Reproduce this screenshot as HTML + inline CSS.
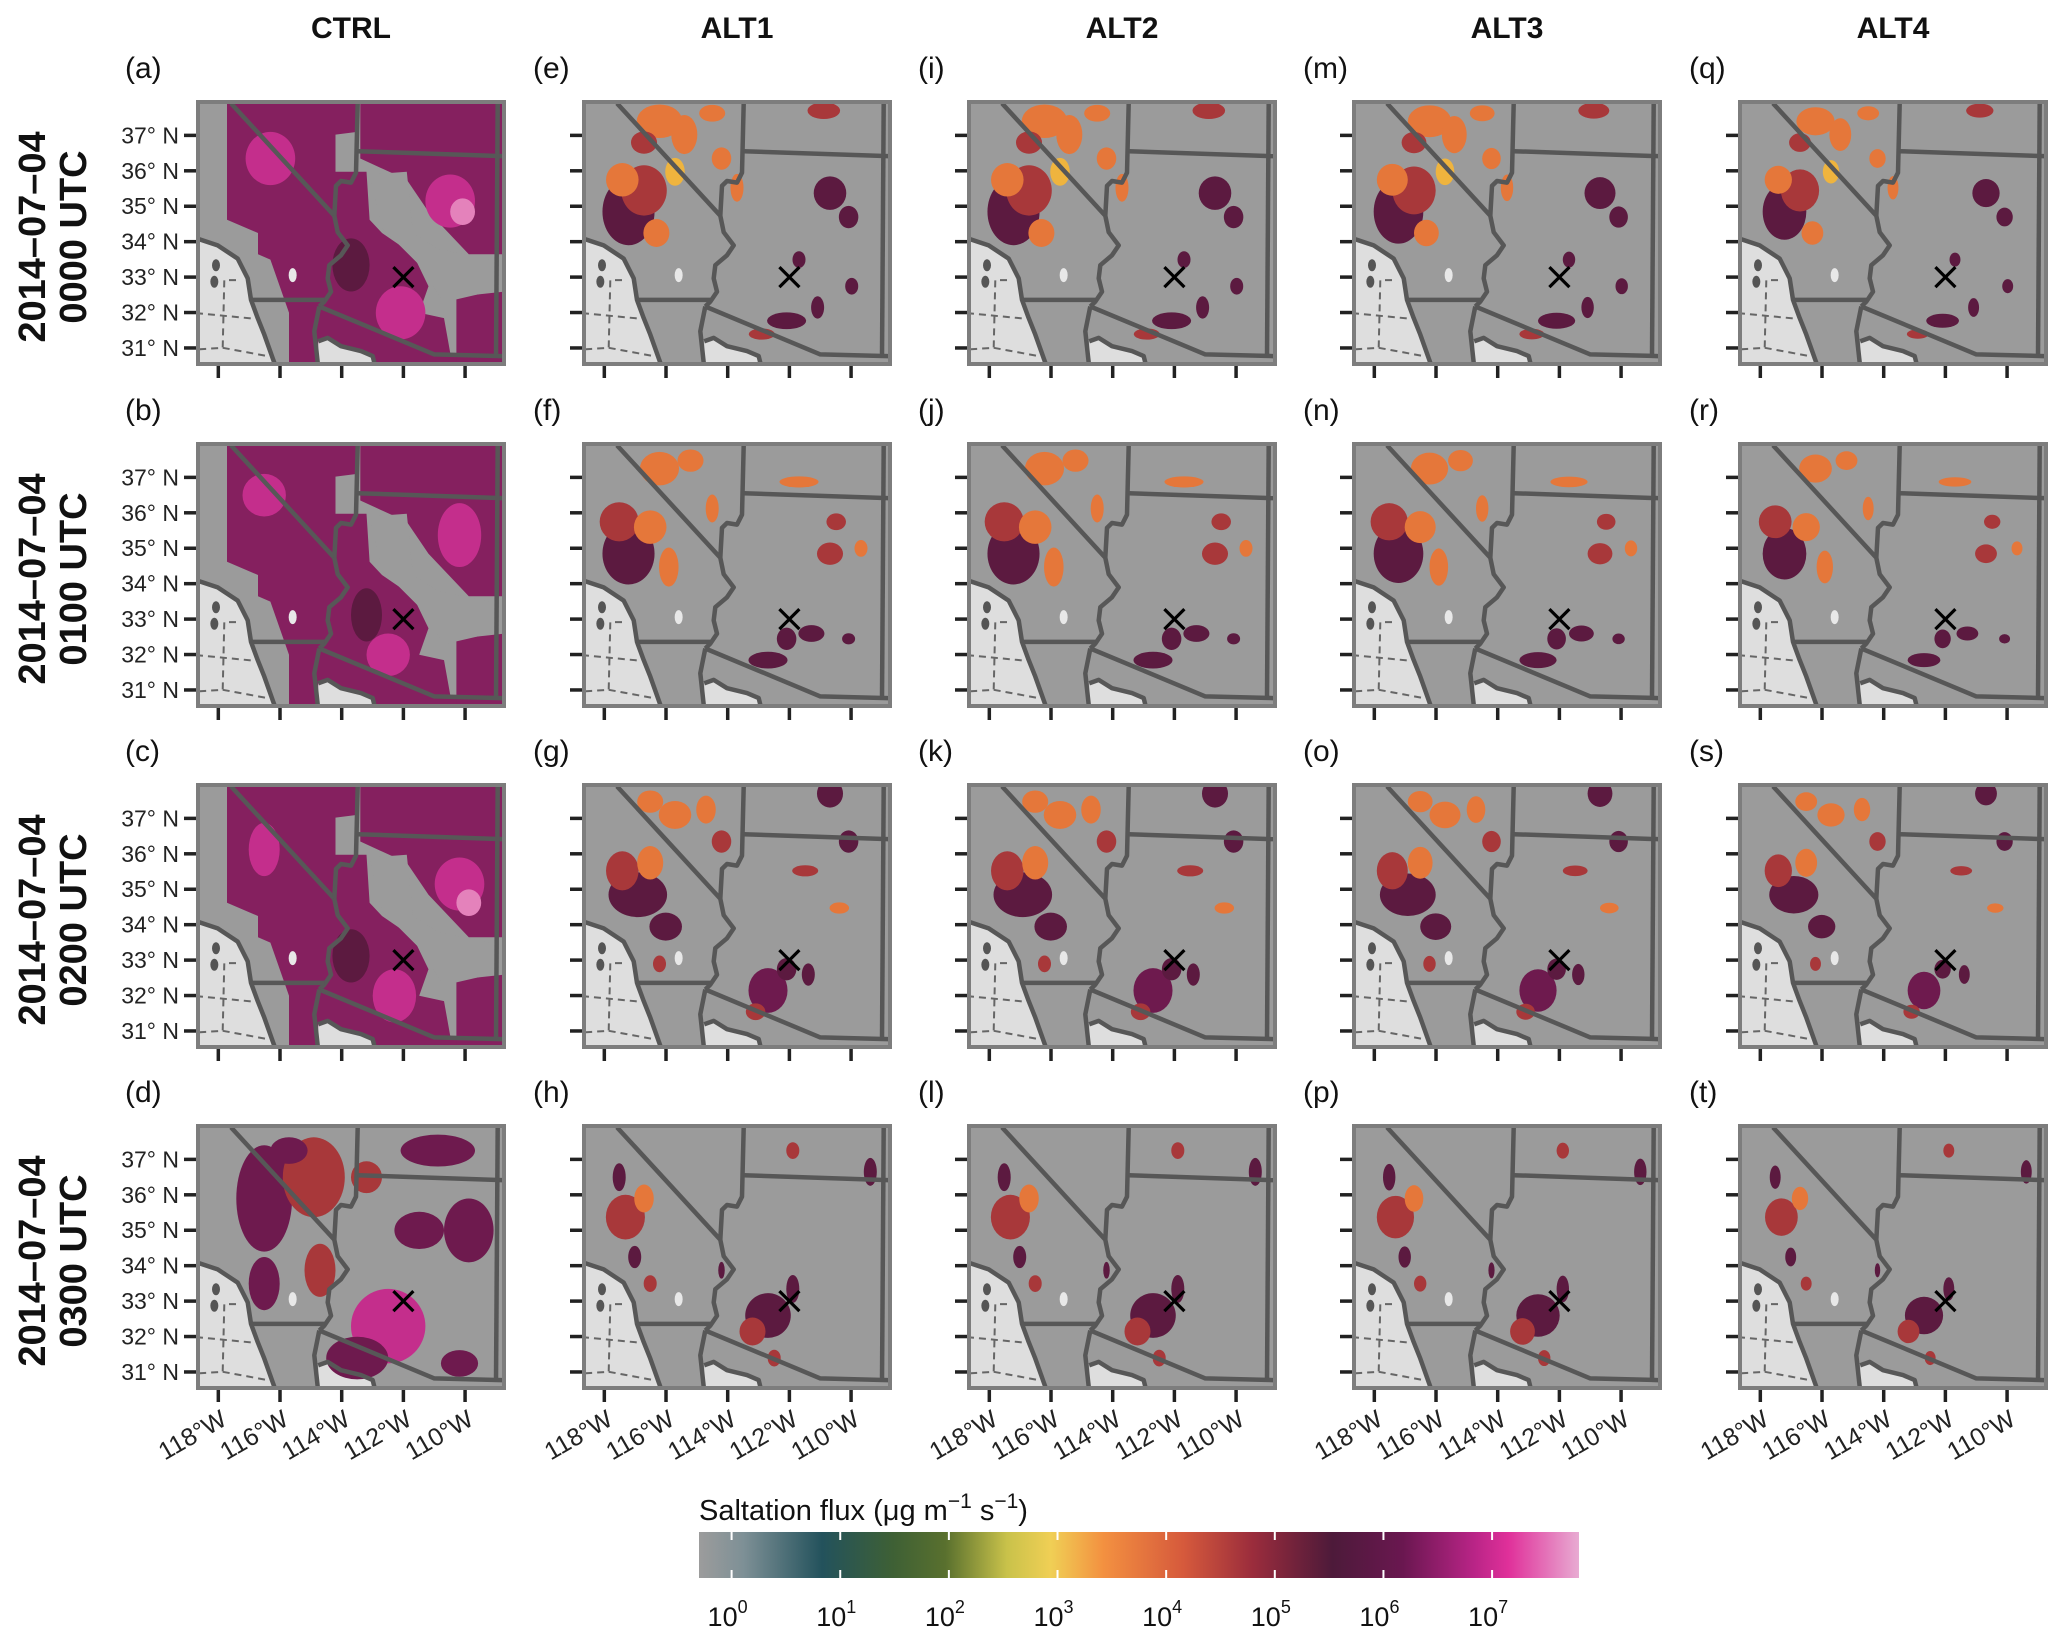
<!DOCTYPE html>
<html><head><meta charset="utf-8">
<style>
html,body{margin:0;padding:0;background:#fff;}
svg{display:block;font-family:"Liberation Sans",sans-serif;}
</style></head>
<body>
<svg id="fig" width="2067" height="1641" viewBox="0 0 2067 1641" xmlns="http://www.w3.org/2000/svg">
<defs>
<linearGradient id="cbgrad" x1="0" x2="1" y1="0" y2="0">
<stop offset="0" stop-color="#9c9c9c"/>
<stop offset="0.05" stop-color="#7e9096"/>
<stop offset="0.14" stop-color="#23525c"/>
<stop offset="0.22" stop-color="#3e6035"/>
<stop offset="0.28" stop-color="#59702e"/>
<stop offset="0.35" stop-color="#c9c24a"/>
<stop offset="0.40" stop-color="#f0cf55"/>
<stop offset="0.46" stop-color="#f39040"/>
<stop offset="0.55" stop-color="#d65a3c"/>
<stop offset="0.63" stop-color="#9a2c3c"/>
<stop offset="0.72" stop-color="#4d1a3a"/>
<stop offset="0.80" stop-color="#6a1750"/>
<stop offset="0.88" stop-color="#b82486"/>
<stop offset="0.92" stop-color="#e0309a"/>
<stop offset="1" stop-color="#e8abd2"/>
</linearGradient>
</defs>
</svg>
<script>
// ---- data ----
const columnTitles = ["CTRL","ALT1","ALT2","ALT3","ALT4"];
const rowDates = ["2014\u201307\u201304","2014\u201307\u201304","2014\u201307\u201304","2014\u201307\u201304"];
const rowTimes = ["0000 UTC","0100 UTC","0200 UTC","0300 UTC"];
const panelLetters = [["a","b","c","d"],["e","f","g","h"],["i","j","k","l"],["m","n","o","p"],["q","r","s","t"]];
const latTicks = [37,36,35,34,33,32,31];
const lonTicks = [118,116,114,112,110];
const cbTickExps = [0,1,2,3,4,5,6,7];
const cbMinExp = -0.3, cbMaxExp = 7.8;
// CTRL purple coverage polygons (panel-relative u,v)
const ctrlMain = [[0.1,0.0],[0.52,0.0],[0.52,0.12],[0.45,0.13],[0.45,0.27],[0.55,0.27],[0.56,0.45],[0.6,0.5],[0.7,0.58],[0.75,0.7],[0.72,0.8],[0.8,0.82],[0.82,0.95],[0.95,1],[0.3,1],[0.3,0.8],[0.24,0.6],[0.2,0.58],[0.2,0.5],[0.1,0.45]];
const ctrlEast = [[0.53,0.0],[1,0.0],[1,0.58],[0.88,0.58],[0.75,0.42],[0.68,0.3],[0.53,0.22]];
const ctrlHole = [[0.56,0.28],[0.68,0.27],[0.7,0.5],[0.78,0.56],[0.95,0.6],[0.95,0.72],[0.8,0.76],[0.72,0.62],[0.6,0.48]];
const ctrlSE = [[0.84,0.74],[1,0.72],[1,1],[0.84,1]];
// blobs: [u, v, rx, ry, colourKey]
const ctrlBlobs = [
 [[0.24,0.22,0.08,0.1,'k'],[0.82,0.38,0.08,0.1,'k'],[0.86,0.42,0.04,0.05,'l'],[0.66,0.8,0.08,0.1,'k'],[0.5,0.62,0.06,0.1,'m']],
 [[0.22,0.2,0.07,0.08,'k'],[0.85,0.35,0.07,0.12,'k'],[0.62,0.8,0.07,0.08,'k'],[0.55,0.65,0.05,0.1,'m']],
 [[0.22,0.25,0.05,0.1,'k'],[0.85,0.38,0.08,0.1,'k'],[0.88,0.45,0.04,0.05,'l'],[0.64,0.8,0.07,0.1,'k'],[0.5,0.65,0.06,0.1,'m']],
 [[0.22,0.28,0.09,0.2,'p'],[0.38,0.2,0.1,0.15,'r'],[0.62,0.76,0.12,0.14,'k'],[0.52,0.88,0.1,0.08,'p'],[0.78,0.1,0.12,0.06,'p'],[0.72,0.4,0.08,0.07,'p'],[0.88,0.4,0.08,0.12,'p'],[0.22,0.6,0.05,0.1,'p'],[0.85,0.9,0.06,0.05,'p'],[0.4,0.55,0.05,0.1,'r'],[0.3,0.1,0.06,0.05,'p'],[0.55,0.2,0.05,0.06,'r']]
];
const altBlobs = [
 [[0.15,0.42,0.08,0.12,'m'],[0.2,0.34,0.07,0.09,'r'],[0.13,0.3,0.05,0.06,'o'],[0.24,0.5,0.04,0.05,'o'],[0.25,0.08,0.07,0.06,'o'],[0.33,0.13,0.04,0.07,'o'],[0.2,0.16,0.04,0.04,'r'],[0.42,0.05,0.04,0.03,'o'],[0.3,0.27,0.03,0.05,'y'],[0.45,0.22,0.03,0.04,'o'],[0.5,0.33,0.02,0.05,'o'],[0.8,0.35,0.05,0.06,'m'],[0.86,0.44,0.03,0.04,'m'],[0.78,0.04,0.05,0.03,'r'],[0.7,0.6,0.02,0.03,'m'],[0.66,0.83,0.06,0.03,'m'],[0.58,0.88,0.04,0.02,'r'],[0.76,0.78,0.02,0.04,'m'],[0.87,0.7,0.02,0.03,'m']],
 [[0.15,0.42,0.08,0.11,'m'],[0.12,0.3,0.06,0.07,'r'],[0.22,0.32,0.05,0.06,'o'],[0.28,0.47,0.03,0.07,'o'],[0.25,0.1,0.06,0.06,'o'],[0.35,0.07,0.04,0.04,'o'],[0.42,0.25,0.02,0.05,'o'],[0.7,0.15,0.06,0.02,'o'],[0.82,0.3,0.03,0.03,'r'],[0.8,0.42,0.04,0.04,'r'],[0.9,0.4,0.02,0.03,'o'],[0.66,0.74,0.03,0.04,'m'],[0.6,0.82,0.06,0.03,'m'],[0.74,0.72,0.04,0.03,'m'],[0.86,0.74,0.02,0.02,'m']],
 [[0.18,0.42,0.09,0.08,'m'],[0.13,0.33,0.05,0.07,'r'],[0.22,0.3,0.04,0.06,'o'],[0.27,0.54,0.05,0.05,'m'],[0.3,0.12,0.05,0.05,'o'],[0.22,0.07,0.04,0.04,'o'],[0.4,0.1,0.03,0.05,'o'],[0.45,0.22,0.03,0.04,'r'],[0.8,0.04,0.04,0.05,'m'],[0.86,0.22,0.03,0.04,'m'],[0.72,0.33,0.04,0.02,'r'],[0.6,0.78,0.06,0.08,'p'],[0.66,0.7,0.03,0.04,'m'],[0.56,0.86,0.03,0.03,'r'],[0.73,0.72,0.02,0.04,'m'],[0.25,0.68,0.02,0.03,'r'],[0.83,0.47,0.03,0.02,'o']],
 [[0.14,0.35,0.06,0.08,'r'],[0.12,0.2,0.02,0.05,'m'],[0.2,0.28,0.03,0.05,'o'],[0.17,0.5,0.02,0.04,'m'],[0.22,0.6,0.02,0.03,'r'],[0.6,0.72,0.07,0.08,'m'],[0.55,0.78,0.04,0.05,'r'],[0.68,0.62,0.02,0.05,'m'],[0.62,0.88,0.02,0.03,'r'],[0.93,0.18,0.02,0.05,'m'],[0.68,0.1,0.02,0.03,'r'],[0.45,0.55,0.01,0.03,'m']]
];
const colourMap = {o:'#e5773a',r:'#a8383a',m:'#5c1a40',p:'#6e1a4e',k:'#c42e8c',l:'#e482bb',y:'#efb43e'};
const siteLon = 112, siteLat = 33;

// ---- layout ----
const colX = [196,582,967,1352,1738], rowY = [100,442,783,1124], W = 310, H = 266;
const NS = 'http://www.w3.org/2000/svg';
const svg = document.getElementById('fig');
function el(tag, attrs, parent){ const e=document.createElementNS(NS,tag); for(const k in attrs) e.setAttribute(k,attrs[k]); (parent||svg).appendChild(e); return e; }
function uLon(lonW){ return 0.072 + (118 - lonW)/2*0.199; }
function vLat(lat){ return 0.133 + (37 - lat)*0.1332; }
function Z(x,y){ return [(x-265)/930,(y-300)/805]; }
const borders = [
 [[370,310],[680,650],[690,700],[720,740],[700,770],[665,800],[660,840],[670,880],[650,910],[635,925]],
 [[750,310],[745,520],[730,550],[700,545],[685,560],[680,650]],
 [[750,455],[1185,470]],
 [[1170,310],[1165,1080]],
 [[430,905],[650,905]],
 [[635,925],[980,1070],[1185,1075]],
 [[265,718],[330,740],[390,780],[420,840],[430,905],[450,960],[470,1010],[500,1095]],
 [[635,925],[620,1000],[630,1095]],
 [[632,1030],[660,1020],[700,1045],[760,1060],[795,1075],[800,1095]]
];
const ocean = [[265,718],[330,740],[390,780],[420,840],[430,905],[450,960],[470,1010],[500,1095],[265,1095]];
const gulf = [[632,1030],[660,1020],[700,1045],[760,1060],[795,1075],[800,1095],[630,1095]];
const dashes = [[[385,845],[350,845],[345,1050],[265,1055]],[[265,945],[440,962]],[[345,1050],[480,1075]]];

for(let c=0;c<5;c++){
 const px=colX[c];
 const t=el('text',{x:px+W/2,y:38,'text-anchor':'middle','font-size':30,'font-weight':'bold',fill:'#111'});
 t.textContent=columnTitles[c];
 
 
 for(let r=0;r<4;r++){
  const py=rowY[r];
  const P=(u,v)=>(px+u*W).toFixed(1)+','+(py+v*H).toFixed(1);
  const g=el('g',{});
  
  
  const lab=el('text',{x:px-(c===0?71:49),y:py-22,'font-size':30,fill:'#111'},g);
  lab.textContent='('+panelLetters[c][r]+')';
  
  
  const cid='clip'+c+'_'+r;
  const cp=el('clipPath',{id:cid},g); el('rect',{x:px+4,y:py+4,width:W-8,height:H-8},cp);
  const inner=el('g',{'clip-path':'url(#'+cid+')'},g);
  el('rect',{x:px,y:py,width:W,height:H,fill:'#9b9b9b'},inner);
  const toPts=a=>a.map(p=>{const q=Z(p[0],p[1]);return P(q[0],q[1]);}).join(' ');
  const uvPts=a=>a.map(p=>P(p[0],p[1])).join(' ');
  if(c===0 && r<3){
   [ctrlMain,ctrlEast,ctrlSE].forEach(poly=>{
    const e=el('polygon',{points:uvPts(poly),fill:'#85205f'},inner);
    
    
   });
   el('polygon',{points:uvPts(ctrlHole),fill:'#9b9b9b'},inner);
  }
  el('polygon',{points:toPts(ocean),fill:'#dedede'},inner);
  el('polygon',{points:toPts(gulf),fill:'#dedede'},inner);
  const blobs = c===0 ? ctrlBlobs[r] : altBlobs[r];
  const sc = c===0 ? 1 : [1,1.05,1.05,1,0.88][c];
  blobs.forEach(b=>{
   const e=el('ellipse',{cx:px+b[0]*W,cy:py+b[1]*H,rx:b[2]*W*sc,ry:b[3]*H*sc,fill:colourMap[b[4]]},inner);
   
   
  });
  let q=Z(325,800); el('ellipse',{cx:px+q[0]*W,cy:py+q[1]*H,rx:4,ry:6,fill:'#555'},inner);
  q=Z(320,850); el('ellipse',{cx:px+q[0]*W,cy:py+q[1]*H,rx:4,ry:6,fill:'#555'},inner);
  q=Z(555,830); el('ellipse',{cx:px+q[0]*W,cy:py+q[1]*H,rx:4,ry:7,fill:'#e8e8e8'},inner);
  dashes.forEach(d=>el('polyline',{points:toPts(d),fill:'none',stroke:'#666','stroke-width':2,'stroke-dasharray':'7,5'},inner));
  borders.forEach(bd=>{
   const l=el('polyline',{points:toPts(bd),fill:'none',stroke:'#575757','stroke-width':4.5,'stroke-linejoin':'round'},inner);
   
   
  });
  const sx=px+uLon(siteLon)*W, sy=py+vLat(siteLat)*H;
  const mk=el('path',{d:`M${sx-10},${sy-10}L${sx+10},${sy+10}M${sx+10},${sy-10}L${sx-10},${sy+10}`,stroke:'#000','stroke-width':3.2},g);
  
  
  el('rect',{x:px+2,y:py+2,width:W-4,height:H-4,fill:'none',stroke:'#7d7d7d','stroke-width':4},g);
  latTicks.forEach(lat=>{
   const y=py+vLat(lat)*H;
   el('line',{x1:px-12,x2:px,y1:y,y2:y,stroke:'#222','stroke-width':3.5},g);
   if(c===0){
    const tl=el('text',{x:px-17,y:y+8,'text-anchor':'end','font-size':23,fill:'#222'},g);
    tl.textContent=lat+'\u00b0 N';
    
    
   }
  });
  lonTicks.forEach(lon=>{
   const x=px+uLon(lon)*W;
   el('line',{x1:x,x2:x,y1:py+H,y2:py+H+12,stroke:'#222','stroke-width':3.5},g);
   if(r===3){
    const tl=el('text',{x:x+10,y:py+H+34,'text-anchor':'end','font-size':25,fill:'#222',transform:`rotate(-30 ${x+10} ${py+H+34})`},g);
    tl.textContent=lon+'\u00b0W';
    
    
   }
  });
 }
}
for(let r=0;r<4;r++){
 const cy=rowY[r]+H/2+4;
 const t=el('text',{transform:`translate(45,${cy}) rotate(-90)`,'text-anchor':'middle','font-size':38,'font-weight':'bold',fill:'#111'});
 
 
 const a=el('tspan',{x:0,y:0},t); a.textContent=rowDates[r];
 const b=el('tspan',{x:0,y:41},t); b.textContent=rowTimes[r];
}
const cbX0=699, cbX1=1579, cbY=1532, cbH=46;
function cbPos(e){ return cbX0 + (e-cbMinExp)/(cbMaxExp-cbMinExp)*(cbX1-cbX0); }
const cbt=el('text',{x:cbX0,y:1520,'font-size':29,fill:'#111'});


cbt.innerHTML='Saltation flux (\u03bcg m<tspan dy="-12" font-size="21">\u22121</tspan><tspan dy="12"> s</tspan><tspan dy="-12" font-size="21">\u22121</tspan><tspan dy="12">)</tspan>';
const cb=el('rect',{x:cbX0,y:cbY,width:cbX1-cbX0,height:cbH,fill:'url(#cbgrad)'});


cbTickExps.forEach(e=>{
 const x=cbPos(e);
 el('line',{x1:x,x2:x,y1:cbY,y2:cbY+8,stroke:'#fff','stroke-width':2});
 el('line',{x1:x,x2:x,y1:cbY+cbH-8,y2:cbY+cbH,stroke:'#fff','stroke-width':2});
 const t=el('text',{x:x-4,y:1626,'text-anchor':'middle','font-size':27,fill:'#111'});
 
 
 t.innerHTML='10<tspan dy="-13" font-size="18">'+e+'</tspan>';
});
</script>
</body></html>
